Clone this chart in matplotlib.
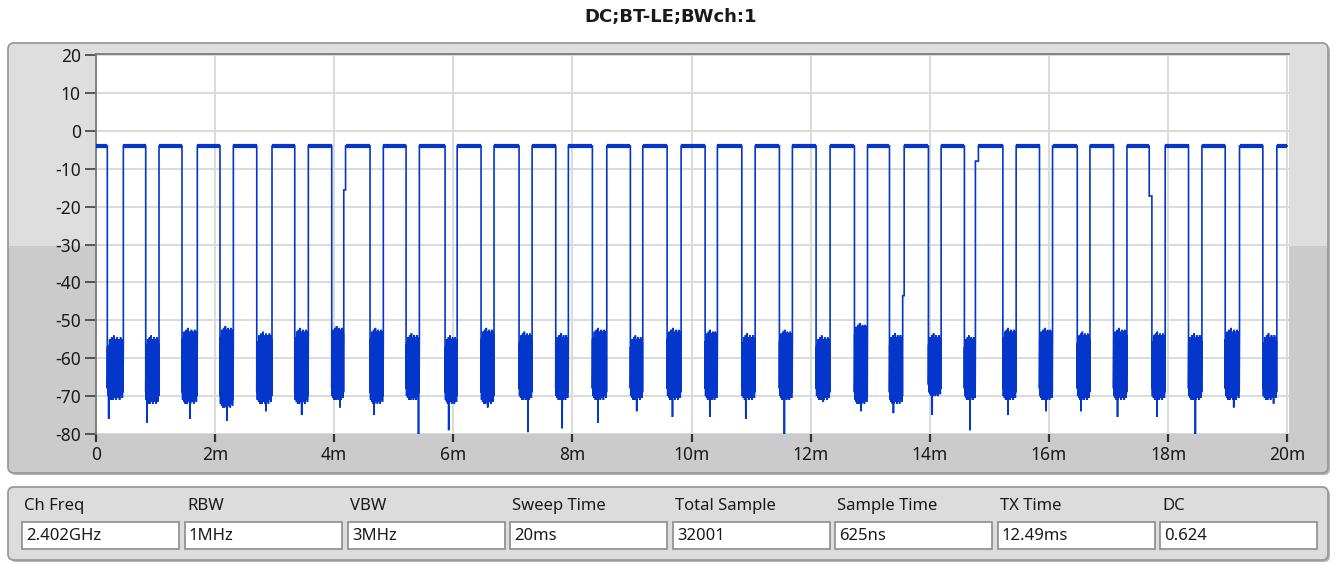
import numpy as np
import matplotlib
matplotlib.use("Agg")
import matplotlib.pyplot as plt
from matplotlib.patches import FancyBboxPatch, Rectangle

plt.rcParams['font.family'] = ['Noto Sans', 'DejaVu Sans']
plt.rcParams['axes.unicode_minus'] = False

# ---------------- data ----------------
title = "DC;BT-LE;BWch:1"
x_ticks = [0, 2, 4, 6, 8, 10, 12, 14, 16, 18, 20]
x_tick_labels = ["0", "2m", "4m", "6m", "8m", "10m", "12m", "14m", "16m", "18m", "20m"]
y_ticks = [20, 10, 0, -10, -20, -30, -40, -50, -60, -70, -80]

on_level = -4.0  # dB level while transmitting

# off periods (ms): falling edge and rising edge
fall_ms = [0.190, 0.835, 1.444, 2.082, 2.699, 3.337, 3.958, 4.601, 5.206, 5.861,
           6.465, 7.103, 7.719, 8.334, 8.972, 9.589, 10.227, 10.843, 11.474, 12.090,
           12.734, 13.322, 13.976, 14.580, 15.226, 15.841, 16.475, 17.084, 17.683,
           18.343, 18.959, 19.591]
rise_ms = [0.459, 1.058, 1.701, 2.306, 2.955, 3.565, 4.190, 4.824, 5.429, 6.064,
           6.683, 7.322, 7.931, 8.576, 9.180, 9.824, 10.433, 11.067, 11.692, 12.325,
           12.953, 13.569, 14.189, 14.815, 15.449, 16.060, 16.688, 17.309, 17.951,
           18.568, 19.199, 19.826]
# noise floor in each off period: highest peak, lower edge of the dense block, deepest spike
gap_peak = [-54, -54, -52, -51.5, -53, -52, -51.5, -52, -53.4, -54, -52, -53, -53.4, -52,
            -54, -52, -52.5, -53.4, -52.5, -54, -50.7, -53.4, -53.4, -54, -52, -52, -53,
            -52, -53, -53.4, -52, -53.4]
gap_low = [-71, -72, -72, -73, -72, -72, -71, -72, -71, -72, -72, -71, -71, -71, -71, -71,
           -71, -71, -71, -71, -72, -72, -70, -71, -71, -71, -71, -71, -71, -71, -71, -71]
gap_spike = [-76, -77, -76, -76.5, -74, -75, -73, -75, -80, -79, -73, -79.5, -78.5, -77,
             -74, -75.5, -75.5, -76, -80, -71.5, -74, -74.5, -75, -79, -75, -74, -74,
             -75.5, -75.5, -80, -73, -72]
spike_pos = [0.1, 0.1, 0.5, 0.5, 0.6, 0.5, 0.7, 0.3, 0.95, 0.3, 0.5, 0.7, 0.5, 0.4, 0.5,
             0.4, 0.4, 0.3, 0.4, 0.5, 0.5, 0.3, 0.3, 0.5, 0.4, 0.5, 0.3, 0.3, 0.4, 0.5,
             0.6, 0.8]
# jagged texture of the noise block (dB offsets from peak / from lower edge)
tex_hi = [-3, -2.5, -3, -1, -2, -2.5, -0.5, -2, -1.5, 0, -2, -1, -2.5, -1.5, -0.5, -2,
          -1, -1.5, -2, -0.5, -1.5, -1, -2, -1.5]
tex_lo = [3, 1, 2, 0.5, 1.5, 0, 2, 1, 0, 1.5, 0.5, 2, 1, 0, 1.5, 2, 0.5, 1, 0, 1.5, 2, 1,
          0.5, 2]
# intermediate steps on a few edges: (gap index, 'rise'/'fall', level dB, duration ms)
edge_steps = [(6, 'rise', -15.6, 0.03), (21, 'rise', -43.5, 0.025),
              (23, 'rise', -8.0, 0.05), (28, 'fall', -17.2, 0.045)]

# bottom info panel
info_labels = ["Ch Freq", "RBW", "VBW", "Sweep Time", "Total Sample", "Sample Time",
               "TX Time", "DC"]
info_values = ["2.402GHz", "1MHz", "3MHz", "20ms", "32001", "625ns", "12.49ms", "0.624"]

# ---------------- build trace ----------------
steps = {(g, k): (lvl, d) for g, k, lvl, d in edge_steps}
t_pts, y_pts = [0.0], [on_level]
for i in range(len(fall_ms)):
    tf, tr = fall_ms[i], rise_ms[i]
    t_pts.append(tf); y_pts.append(on_level)
    a, b = tf, tr
    if (i, 'fall') in steps:
        lvl, d = steps[(i, 'fall')]
        t_pts += [tf, tf + d]; y_pts += [lvl, lvl]
        a = tf + d
    if (i, 'rise') in steps:
        lvl, d = steps[(i, 'rise')]
        b = tr - d
    m = len(tex_hi)
    xs = np.linspace(a, b, 2 * m)
    sp = int(round(spike_pos[i] * (m - 1)))
    for k in range(m):
        lo = gap_low[i] + tex_lo[k]
        if k == sp:
            lo = gap_spike[i]
        t_pts += [xs[2 * k], xs[2 * k + 1]]
        y_pts += [lo, gap_peak[i] + tex_hi[k]]
    if (i, 'rise') in steps:
        lvl, d = steps[(i, 'rise')]
        t_pts += [b, tr]; y_pts += [lvl, lvl]
    t_pts.append(tr); y_pts.append(on_level)
t_pts.append(20.0); y_pts.append(on_level)

on_start = [0.0] + rise_ms
on_end = fall_ms + [20.0]

# ---------------- figure ----------------
W, H = 1341, 563
fig = plt.figure(figsize=(W / 100, H / 100), dpi=100)
fig.patch.set_facecolor('white')

bg = fig.add_axes([0, 0, 1, 1], zorder=0)
bg.set_xlim(0, W); bg.set_ylim(H, 0); bg.axis('off')

# main panel
shadow = FancyBboxPatch((10, 45), 1320, 430, boxstyle="round,pad=0,rounding_size=6",
                        fc='#b4b4b4', ec='none')
bg.add_patch(shadow)
panel = FancyBboxPatch((8, 43), 1320, 430, boxstyle="round,pad=0,rounding_size=6",
                       fc='#cbcbcb', ec='none')
bg.add_patch(panel)
light = Rectangle((8, 43), 1320, 203, fc='#dedede', ec='none')
bg.add_patch(light)
light.set_clip_path(panel)
bg.add_patch(FancyBboxPatch((8, 43), 1320, 430, boxstyle="round,pad=0,rounding_size=6",
                            fc='none', ec='#9a9a9a', lw=1.3))

# bottom panel
bg.add_patch(FancyBboxPatch((10, 489), 1320, 73, boxstyle="round,pad=0,rounding_size=6",
                            fc='#b4b4b4', ec='none'))
bg.add_patch(FancyBboxPatch((8, 487), 1320, 73, boxstyle="round,pad=0,rounding_size=6",
                            fc='#dcdcdc', ec='#9a9a9a', lw=1.3))
box_x0 = [22, 185, 348, 510, 673, 835, 998, 1160]
box_w = 157
for x0, lab, val in zip(box_x0, info_labels, info_values):
    bg.text(x0 + 2, 506, lab, ha='left', va='center', fontsize=12, color='#1a1a1a')
    bg.add_patch(Rectangle((x0, 522), box_w, 27, fc='white', ec='#8c8c8c', lw=1.2))
    bg.text(x0 + 4, 536.5, val, ha='left', va='center', fontsize=12, color='#1a1a1a')

fig.text(670.5 / W, 1 - 17 / H, title, ha='center', va='center', fontsize=13,
         fontweight='bold', family='DejaVu Sans', color='#1a1a1a')

# main axes
ax = fig.add_axes([96 / W, 1 - 434 / H, 1193 / W, 380.5 / H], zorder=1)
ax.set_facecolor('white')
ax.set_xlim(0, 20.03)
ax.set_ylim(-80, 20.4)
ax.set_xticks(x_ticks)
ax.set_xticklabels(x_tick_labels)
ax.set_yticks(y_ticks)
ax.set_yticklabels([str(v) for v in y_ticks])
ax.grid(True, color='#dadada', lw=1.4)
ax.set_axisbelow(True)
for s in ['bottom', 'right']:
    ax.spines[s].set_visible(False)
for s in ['top', 'left']:
    ax.spines[s].set_color('#7a7a7a')
    ax.spines[s].set_linewidth(1.3)
ax.tick_params(axis='y', direction='out', length=8, width=1.1, color='#333333',
               labelsize=12.5, labelcolor='#1a1a1a', pad=3)
ax.tick_params(axis='x', direction='out', length=6, width=1.6, color='#333333',
               labelsize=12.5, labelcolor='#1a1a1a', pad=3)

blue = '#0436cc'
ax.plot(t_pts, y_pts, color=blue, lw=1.2, solid_joinstyle='miter', zorder=3)
ax.hlines([on_level] * len(on_start), on_start, on_end, color=blue, lw=3.0, zorder=3)

fig.savefig('out.png', dpi=100)
